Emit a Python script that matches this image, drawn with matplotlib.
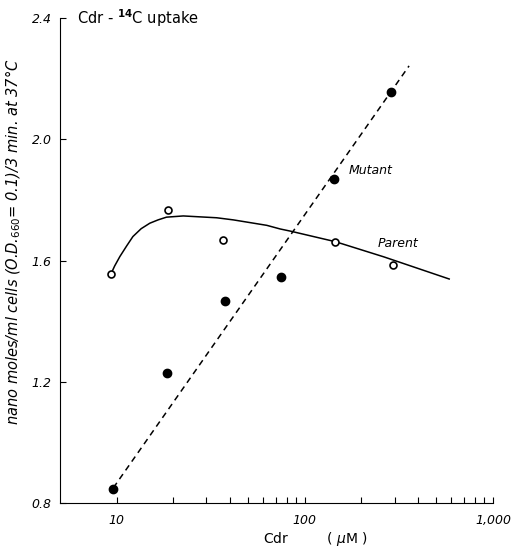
import matplotlib.pyplot as plt
from matplotlib.ticker import FixedLocator, NullFormatter

# parent cells (open circles)
parent_x = [9.3, 18.8, 36.9, 145, 294]
parent_y = [1.554, 1.767, 1.668, 1.662, 1.586]
# hand-drawn smooth curve through parent data
parent_curve_x = [9.3, 9.76, 10.4, 11.3, 12.2, 13.5, 15.0, 16.6, 18.4, 22.6, 27.7,
                  34.0, 41.7, 51.2, 62.8, 74.0, 83.7, 145.5, 263, 585]
parent_curve_y = [1.554, 1.582, 1.613, 1.648, 1.679, 1.705, 1.723, 1.734, 1.743, 1.747, 1.744,
                  1.741, 1.734, 1.725, 1.716, 1.704, 1.697, 1.662, 1.612, 1.539]

# mutant cells (filled circles)
mutant_x = [9.6, 18.5, 37.7, 74.6, 142.6, 288]
mutant_y = [0.845, 1.228, 1.467, 1.547, 1.868, 2.157]
# dashed straight line (on log scale)
mutant_line_x = [9.6, 358]
mutant_line_y = [0.85, 2.242]

x_major = [10, 100, 1000]
x_labels = ['10', '100', '1,000']
x_minor = [20, 30, 40, 50, 60, 70, 80, 90, 200, 300, 400, 500, 600, 700, 800, 900]
y_ticks = [0.8, 1.2, 1.6, 2.0, 2.4]

plt.rcParams['font.family'] = ['DejaVu Sans']

fig = plt.figure(figsize=(5.15, 5.47), dpi=100)
ax = fig.add_axes([0.1165, 0.0804, 0.8408, 0.8867])

ax.plot(parent_curve_x, parent_curve_y, '-', color='black', lw=1.1)
ax.plot(parent_x, parent_y, 'o', mfc='white', mec='black', mew=1.2, ms=5)
ax.plot(mutant_line_x, mutant_line_y, '--', color='black', lw=1.1, dashes=(4, 3))
ax.plot(mutant_x, mutant_y, 'o', color='black', ms=6)

ax.set_xscale('log')
ax.set_xlim(5, 1000)
ax.set_ylim(0.8, 2.4)

ax.xaxis.set_major_locator(FixedLocator(x_major))
ax.set_xticklabels(x_labels, fontsize=9, style='italic')
ax.xaxis.set_minor_locator(FixedLocator(x_minor))
ax.xaxis.set_minor_formatter(NullFormatter())
ax.set_yticks(y_ticks)
ax.set_yticklabels(['%.1f' % v for v in y_ticks], fontsize=9, style='italic')
ax.tick_params(axis='both', which='both', direction='in', length=4, width=0.8)
ax.tick_params(axis='x', which='major', pad=8)
ax.tick_params(axis='y', which='major', pad=6)

ax.spines['top'].set_visible(False)
ax.spines['right'].set_visible(False)

ax.text(0.04, 1.0, r'Cdr - $^{\mathbf{14}}$C uptake', transform=ax.transAxes,
        fontsize=10.5, va='center', ha='left')
ax.text(170, 1.898, 'Mutant', fontsize=9, style='italic', ha='left', va='center')
ax.text(245, 1.655, 'Parent', fontsize=9, style='italic', ha='left', va='center')

ax.set_xlabel(r'Cdr         ( $\mu$M )', fontsize=10)
ax.xaxis.set_label_coords(0.59, -0.055)
ax.set_ylabel(r'nano moles/ml cells (O.D.$_{660}$= 0.1)/3 min. at 37°C',
              fontsize=10.5, style='italic')
ax.yaxis.set_label_coords(-0.085, 0.538)

fig.savefig('out.png', dpi=100)
